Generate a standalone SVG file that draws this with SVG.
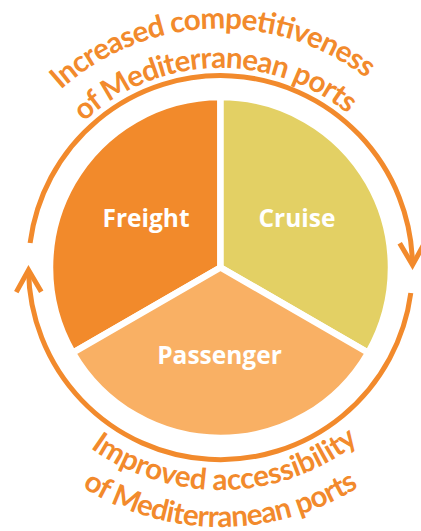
<svg xmlns="http://www.w3.org/2000/svg" width="421" height="531" viewBox="0 0 421 531">
  <defs>
    <style>
      .slice { stroke: #ffffff; stroke-width: 6.5; stroke-linejoin: round; }
      .label { font-family: "Open Sans", Lato, sans-serif; font-weight: 700; font-size: 24.5px; fill: #ffffff; text-anchor: middle; }
      .arctext { font-family: Lato, "Open Sans", sans-serif; font-weight: 700; font-size: 29.5px; fill: #F28A2C; text-anchor: middle; }
      .ring { fill: none; stroke: #F28A2C; stroke-width: 5; }
    </style>
    <marker id="arrow" viewBox="-30 -20 40 40" markerWidth="40" markerHeight="40" refX="0" refY="0" orient="auto" markerUnits="userSpaceOnUse">
      <path d="M -22,-12.5 L 0,0 L -22,12.5" fill="none" stroke="#F28A2C" stroke-width="5" stroke-linejoin="miter" stroke-linecap="butt"/>
    </marker>
    <path id="top1" d="M -18.5,267.5 A 239 239 0 0 1 459.5,267.5"/>
    <path id="top2" d="M 21,267.5 A 199.5 199.5 0 0 1 420,267.5"/>
    <path id="bot1" d="M -2,267.5 A 222.5 222.5 0 0 0 443,267.5"/>
    <path id="bot2" d="M -39,267.5 A 259.5 259.5 0 0 0 480,267.5"/>
  </defs>

  <g id="freight">
    <path class="slice" fill="#F28A2B" d="M 220.5,267.5 L 220.5,97 A 170.5 170.5 0 0 0 72.84,352.75 Z"/>
    <text class="label" x="146" y="227">Freight</text>
  </g>
  <g id="cruise">
    <path class="slice" fill="#E3D064" d="M 220.5,267.5 L 220.5,97 A 170.5 170.5 0 0 1 368.16,352.75 Z"/>
    <text class="label" x="297" y="227">Cruise</text>
  </g>
  <g id="passenger">
    <path class="slice" fill="#F9B064" d="M 220.5,267.5 L 368.16,352.75 A 170.5 170.5 0 0 1 72.84,352.75 Z"/>
    <text class="label" x="219.5" y="364">Passenger</text>
  </g>

  <g id="connectors">
    <path class="ring" marker-end="url(#arrow)" d="M 30.1,243 A 192 192 0 0 1 412.5,265"/>
    <path class="ring" marker-end="url(#arrow)" d="M 410.8,293 A 192 192 0 0 1 28.5,270"/>
  </g>

  <g id="top-label">
    <text class="arctext"><textPath href="#top1" startOffset="48.8%" textLength="332">Increased competitiveness</textPath></text>
    <text class="arctext"><textPath href="#top2" startOffset="49%" textLength="288">of Mediterranean ports</textPath></text>
  </g>
  <g id="bottom-label">
    <text class="arctext"><textPath href="#bot1" startOffset="50.7%" textLength="288">Improved accessibility</textPath></text>
    <text class="arctext"><textPath href="#bot2" startOffset="50%" textLength="292">of Mediterranean ports</textPath></text>
  </g>
</svg>
